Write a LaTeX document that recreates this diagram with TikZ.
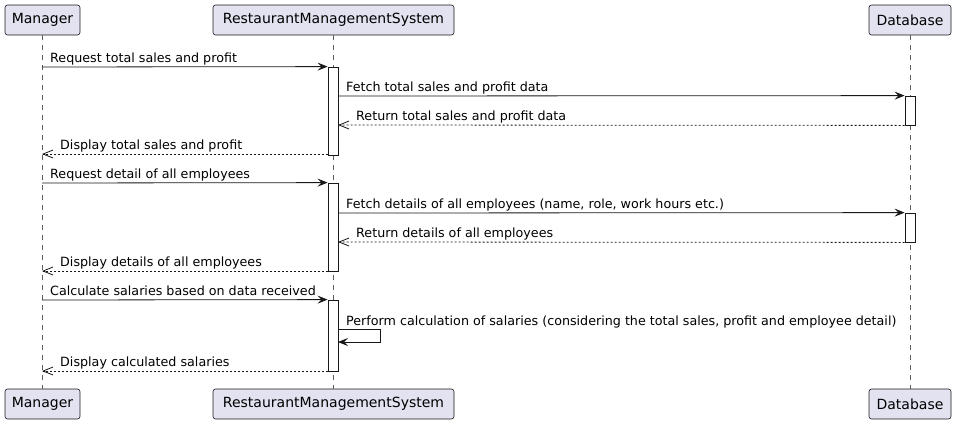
\documentclass[tikz,border=0pt]{standalone}
\usepackage{fontspec}
\setmainfont{DejaVu Sans}
\usetikzlibrary{arrows.meta}
\definecolor{partfill}{HTML}{E2E2F0}
\definecolor{ink}{HTML}{181818}
\begin{document}
\begin{tikzpicture}[x=1pt,y=-1pt,
  part/.style={draw=ink, fill=partfill, rounded corners=2.5pt, line width=0.6pt, minimum height=30pt, inner sep=0pt, font=\fontsize{14}{16}\selectfont, text=black},
  act/.style={draw=ink, fill=white, line width=0.8pt, minimum width=10pt, inner sep=0pt},
  life/.style={draw=ink!70, line width=0.5pt, dash pattern=on 5pt off 5pt},
  msg/.style={draw=ink, line width=0.8pt, -{Stealth[length=10pt,width=8pt,inset=4pt]}},
  ret/.style={draw=ink, line width=0.8pt, dash pattern=on 2pt off 2pt, -{Straight Barb[length=10pt,width=8pt]}},
  lbl/.style={anchor=base west, inner sep=0pt, font=\fontsize{12.7}{15}\selectfont, text=black}]
\useasboundingbox (0,0) rectangle (956,424);

% participants
\node[part, minimum width=75pt] (mgrT) at (42.5,20) {Manager};
\node[part, minimum width=241pt] (rmsT) at (333.5,20) {RestaurantManagementSystem};
\node[part, minimum width=82pt] (dbT) at (910,20) {Database};
\node[part, minimum width=75pt] (mgrB) at (42.5,404) {Manager};
\node[part, minimum width=241pt] (rmsB) at (333.5,404) {RestaurantManagementSystem};
\node[part, minimum width=82pt] (dbB) at (910,404) {Database};

% lifelines
\draw[life] (mgrT) -- (mgrB);
\draw[life] (rmsT) -- (rmsB);
\draw[life] (dbT) -- (dbB);

% activations
\node[act, minimum height=88pt] (a1) at (333,111) {};
\node[act, minimum height=29pt] (d1) at (910,110.5) {};
\node[act, minimum height=88pt] (a2) at (333,227) {};
\node[act, minimum height=29pt] (d2) at (910,227.5) {};
\node[act, minimum height=71pt] (a3) at (333,335.5) {};

% endpoints
\coordinate (m1) at (42,67);
\coordinate (m2) at (42,154);
\coordinate (m3) at (42,183);
\coordinate (m4) at (42,271);
\coordinate (m5) at (42,300);
\coordinate (m6) at (42,371);
\coordinate (r1) at (338,96);
\coordinate (r2) at (338,125);
\coordinate (r3) at (338,213);
\coordinate (r4) at (338,242);
\coordinate (s1) at (338,329);
\coordinate (s2) at (380,329);
\coordinate (s3) at (380,342);
\coordinate (s4) at (338,342);
\coordinate (p1) at (328,154);
\coordinate (p2) at (328,271);
\coordinate (p3) at (328,371);

% messages
\draw[msg] (m1) -- (a1.north west);
\node[lbl] (t1) at (50,62) {Request total sales and profit};
\draw[msg] (r1) -- (d1.north west);
\node[lbl] (t2) at (346,91) {Fetch total sales and profit data};
\draw[ret] (d1.south west) -- (r2);
\node[lbl] (t3) at (356,120) {Return total sales and profit data};
\draw[ret] (p1) -- (m2);
\node[lbl] (t4) at (60,149) {Display total sales and profit};

\draw[msg] (m3) -- (a2.north west);
\node[lbl] (t5) at (50,178) {Request detail of all employees};
\draw[msg] (r3) -- (d2.north west);
\node[lbl] (t6) at (346,208) {Fetch details of all employees (name, role, work hours etc.)};
\draw[ret] (d2.south west) -- (r4);
\node[lbl] (t7) at (356,237) {Return details of all employees};
\draw[ret] (p2) -- (m4);
\node[lbl] (t8) at (60,266) {Display details of all employees};

\draw[msg] (m5) -- (a3.north west);
\node[lbl] (t9) at (50,295) {Calculate salaries based on data received};
\draw[msg] (s1) -- (s2) -- (s3) -- (s4);
\node[lbl] (t10) at (346,325) {Perform calculation of salaries (considering the total sales, profit and employee detail)};
\draw[ret] (p3) -- (m6);
\node[lbl] (t11) at (60,366) {Display calculated salaries};
\end{tikzpicture}
\end{document}
